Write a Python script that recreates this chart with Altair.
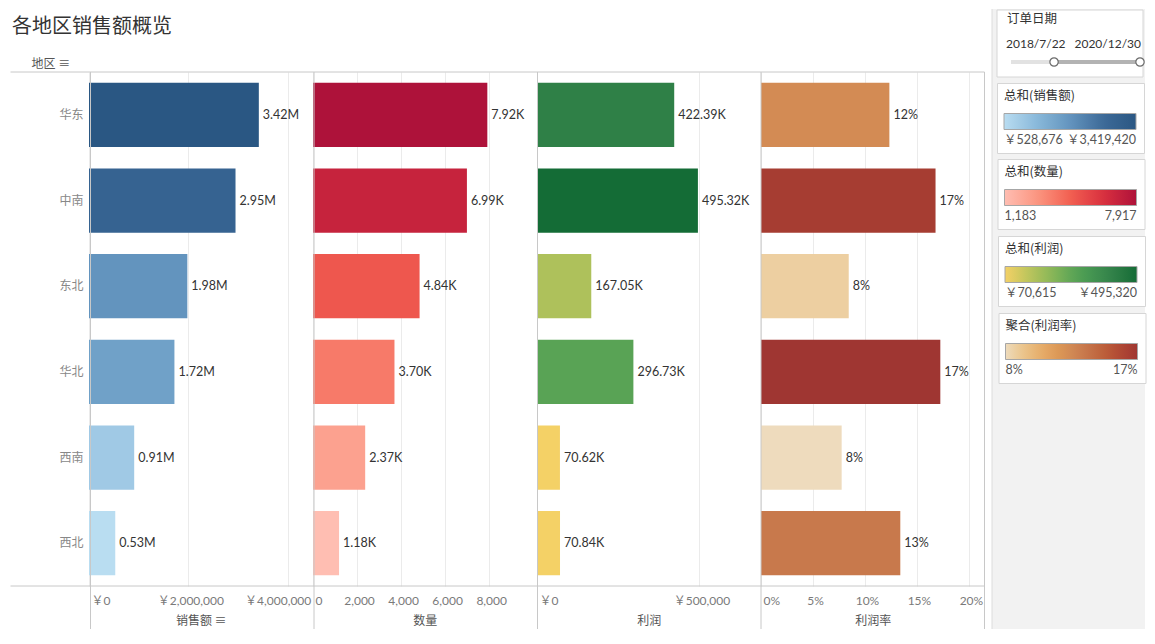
import altair as alt
import pandas as pd

# ---------------- data ----------------
regions = ["华东", "中南", "东北", "华北", "西南", "西北"]
sales = [3419420, 2950000, 1980000, 1720000, 910000, 528676]
quantity = [7917, 6990, 4840, 3700, 2370, 1183]
profit = [422390, 495320, 167050, 296730, 70615.4, 70840]
profit_rate = [0.1235, 0.1679, 0.0844, 0.1725, 0.0776, 0.134]

sales_ticks = [0, 2000000, 4000000]
quantity_ticks = [0, 2000, 4000, 6000, 8000]
profit_ticks = [0, 500000]
rate_ticks = [0, 0.05, 0.10, 0.15, 0.20]

sales_max, quantity_max, profit_max, rate_max = 4500000, 10150, 688000, 0.215

date_range_start = "2017-05-01"
date_selected_start = "2018-07-22"
date_end = "2020-12-30"
date_labels = ["2018/7/22", "2020/12/30"]

title_text = "各地区销售额概览"
filter_title = "订单日期"
axis_titles = ["销售额 ≡", "数量", "利润", "利润率"]
legend_titles = ["总和(销售额)", "总和(数量)", "总和(利润)", "聚合(利润率)"]

blue = ["#b9ddf1", "#89b8da", "#6394be", "#3d6a98", "#2a5783"]
red = ["#ffbeb2", "#fb9580", "#f25f51", "#d9303f", "#ae123a"]
green_gold = ["#f4d166", "#d5ca60", "#b6c35c", "#98bb59", "#7cb257", "#60a656",
              "#4b9c53", "#3f8f4f", "#33834a", "#257740", "#146c36"]
brown = ["#eedbbd", "#ecca96", "#e9b97a", "#e4a865", "#dc9856", "#d18954",
         "#c7784c", "#c0673f", "#b85536", "#ad4433", "#9f3632"]

df = pd.DataFrame({"region": regions, "sales": sales, "qty": quantity,
                   "profit": profit, "rate": profit_rate})
one_row = pd.DataFrame({"k": [0]})

# ---------------- layout constants ----------------
PW = 223.5
PH = 514
FONT = "Lato, 'Noto Sans CJK SC', sans-serif"
CJK = "'Noto Sans CJK SC', sans-serif"
LINE = "#c8c8c8"
CARD_X = 908

y_scale = alt.Scale(paddingInner=0.25, paddingOuter=0.125)


def x_axis(ticks, label_expr, title, offset_cond=None):
    kw = dict(values=ticks, labelExpr=label_expr, grid=True, gridColor="#ebebeb",
              domain=False, ticks=False, labelPadding=9, labelFontSize=12,
              labelColor="#7a7a7a", labelFont=FONT, labelFlush=False,
              labelAlign={"condition": {"test": "datum.value == 0", "value": "left"},
                          "value": "center"},
              title=title, titleFont=CJK, titleFontSize=12, titleColor="#555555",
              titleFontWeight="normal", titlePadding=9)
    kw["labelOffset"] = offset_cond if offset_cond is not None else 2
    return alt.Axis(**kw)


def legend(idx, title, values, label_expr, ly):
    return alt.Legend(orient="none", legendX=CARD_X - PW * idx, legendY=ly,
                      direction="horizontal", title=title, titleFont=CJK,
                      titleFontSize=12.5, titleColor="#333333", titleFontWeight="normal",
                      titlePadding=11, gradientLength=132, gradientThickness=16,
                      gradientStrokeColor="#a6a6a6", gradientStrokeWidth=1,
                      values=values, labelExpr=label_expr, labelFont=FONT,
                      labelFontSize=12.5, labelColor="#555555", labelOffset=4,
                      labelOverlap=False,
                      fillColor="white", strokeColor="#d6d6d6", padding=7)


def panel(idx, field, label_calc, xmax, ticks, axis_label_expr, palette,
          legend_label_expr, ly, y_axis, offset_cond=None):
    vals = list(df[field])
    cmin, cmax = min(vals), max(vals)
    base = alt.Chart(df).transform_calculate(lbl=label_calc)
    x = alt.X(f"{field}:Q", scale=alt.Scale(domain=[0, xmax], nice=False, zero=True),
              axis=x_axis(ticks, axis_label_expr, axis_titles[idx], offset_cond))
    y = alt.Y("region:N", sort=regions, scale=y_scale, axis=y_axis)
    bars = base.mark_bar().encode(
        x=x, y=y,
        color=alt.Color(f"{field}:Q",
                        scale=alt.Scale(domain=[cmin, cmax], range=palette, interpolate="rgb"),
                        legend=legend(idx, legend_titles[idx], [cmin, cmax],
                                      legend_label_expr, ly)))
    text = base.mark_text(align="left", baseline="middle", dx=4, fontSize=12.5,
                          color="#333333", font=FONT).encode(
        x=alt.X(f"{field}:Q"), y=alt.Y("region:N", sort=regions), text="lbl:N")
    return bars, text


y_axis0 = alt.Axis(title="地区 ≡", titleAngle=0, titleAlign="left", titleBaseline="middle",
                   titleX=-58, titleY=-9, titleFont=CJK, titleFontSize=12,
                   titleColor="#555555", titleFontWeight="normal", labelFont=CJK,
                   labelFontSize=12, labelColor="#888888", labelPadding=6,
                   ticks=False, domain=False, grid=False)

b0, t0 = panel(0, "sales", "format(datum.sales / 1000000, '.2f') + 'M'", sales_max,
               sales_ticks, "'￥' + format(datum.value, ',')", blue,
               "'￥' + format(datum.value, ',')", 11, y_axis0,
               {"condition": {"test": "datum.value == 4000000", "value": -10}, "value": 2})
b1, t1 = panel(1, "qty", "format(datum.qty / 1000, '.2f') + 'K'", quantity_max,
               quantity_ticks, "format(datum.value, ',')", red,
               "format(datum.value, ',')", 87, None)
b2, t2 = panel(2, "profit", "format(datum.profit / 1000, '.2f') + 'K'", profit_max,
               profit_ticks, "'￥' + format(datum.value, ',')", green_gold,
               "'￥' + format(datum.value, ',.0f')", 164, None)
b3, t3 = panel(3, "rate", "format(datum.rate, '.0%')", rate_max,
               rate_ticks, "format(datum.value, '.0%')", brown,
               "format(datum.value, '.0%')", 241, None)

# right-hand filter panel background and date card (decoration)
gray_panel = alt.Chart(one_row).mark_rect(color="#f2f2f2").encode(
    x=alt.value(903), x2=alt.value(1056), y=alt.value(-63), y2=alt.value(557))
panel_edge = alt.Chart(one_row).mark_rule(color="#dcdcdc", strokeWidth=1).encode(
    x=alt.value(903), y=alt.value(-63), y2=alt.value(557))
date_card = alt.Chart(one_row).mark_rect(fill="white", stroke="#d6d6d6", strokeWidth=1).encode(
    x=alt.value(CARD_X), x2=alt.value(CARD_X + 146), y=alt.value(-62), y2=alt.value(5))

c0 = alt.layer(gray_panel, panel_edge, date_card, b0, t0).properties(width=PW, height=PH)
c1 = alt.layer(b1, t1).properties(width=PW, height=PH)
c2 = alt.layer(b2, t2).properties(width=PW, height=PH)

# table frame lines drawn over the last panel (decoration)
seps = []
for xv in [-3 * PW, -2 * PW, -PW, 0, PW]:
    seps.append(alt.Chart(one_row).mark_rule(color=LINE, strokeWidth=1).encode(
        x=alt.value(xv), y=alt.value(0), y2=alt.value(557)))
for yv in [0, PH]:
    seps.append(alt.Chart(one_row).mark_rule(color=LINE, strokeWidth=1).encode(
        x=alt.value(-3 * PW - 80), x2=alt.value(PW), y=alt.value(yv)))
c3 = alt.layer(b3, t3, *seps).properties(width=PW, height=PH)

# date range filter (panel starts right after the last table column)
track_df = pd.DataFrame({"start": [date_range_start], "end": [date_end]})
sel_df = pd.DataFrame({"start": [date_selected_start], "end": [date_end]})
handle_df = pd.DataFrame({"start": [date_selected_start, date_end]})
xs = alt.X("start:T", axis=None, scale=alt.Scale(nice=False, range=[26, 155]))
track = alt.Chart(track_df).mark_rule(strokeWidth=4, color="#e2e2e2").encode(
    x=xs, x2="end:T", y=alt.value(-10))
selected = alt.Chart(sel_df).mark_rule(strokeWidth=4, color="#b3b3b3").encode(
    x="start:T", x2="end:T", y=alt.value(-10))
handles = alt.Chart(handle_df).mark_point(shape="circle", filled=True, fill="white",
                                          stroke="#6b6b6b", strokeWidth=1.2, size=70,
                                          opacity=1).encode(
    x="start:T", y=alt.value(-10))
f_title = alt.Chart(one_row).mark_text(align="left", baseline="middle", fontSize=12.5,
                                       font=CJK, color="#333333").encode(
    x=alt.value(22), y=alt.value(-53), text=alt.value(filter_title))
d_left = alt.Chart(one_row).mark_text(align="left", baseline="middle", fontSize=12,
                                      font=FONT, color="#333333").encode(
    x=alt.value(21), y=alt.value(-28), text=alt.value(date_labels[0]))
d_right = alt.Chart(one_row).mark_text(align="right", baseline="middle", fontSize=12,
                                       font=FONT, color="#333333").encode(
    x=alt.value(156), y=alt.value(-28), text=alt.value(date_labels[1]))
c4 = alt.layer(track, selected, handles, f_title, d_left, d_right).properties(
    width=153, height=PH)

chart = alt.hconcat(c0, c1, c2, c3, c4, spacing=0).resolve_scale(
    color="independent", x="independent").resolve_legend(color="independent").properties(
    bounds="flush",
    padding={"left": 2, "top": 0, "right": 0, "bottom": 0},
    title=alt.TitleParams(text=title_text, anchor="start", font=CJK, fontSize=20,
                          fontWeight="normal", color="#333333", offset=-28, dx=2,
                          frame="bounds"),
).configure_view(strokeWidth=0).properties(background="white")

chart.save("out.html", embed_options={"renderer": "svg", "actions": False})
